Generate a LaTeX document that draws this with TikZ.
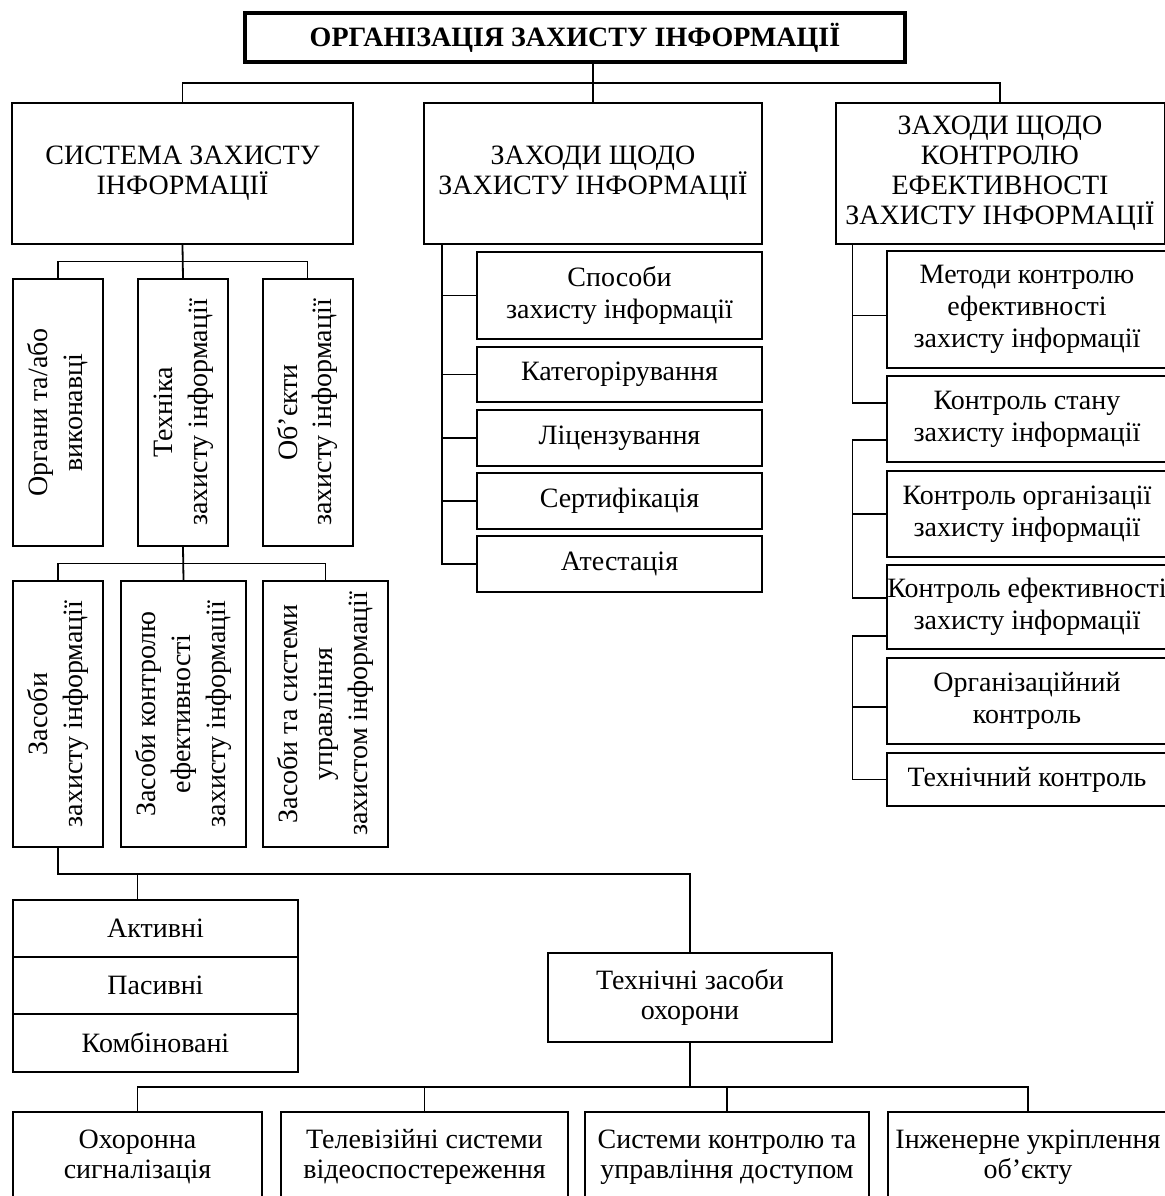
\documentclass[tikz,border=0pt]{standalone}
\usepackage{fontspec}
\setmainfont{Liberation Serif}
\usepackage{graphicx}
\usetikzlibrary{calc}
% two or three lines of text turned to read upwards
\newcommand\uprot[1]{\rotatebox{90}{\renewcommand\arraystretch{1.09}\begin{tabular}{@{}c@{}}#1\end{tabular}}}
\begin{document}
\begin{tikzpicture}[x=0.5pt,y=-0.5pt,
  box/.style={draw,line width=1pt,inner sep=1pt,align=center,
    font=\fontsize{14}{16}\selectfont},
  tightbox/.style={box,font=\fontsize{14}{15}\selectfont},
  headbox/.style={box,font=\fontsize{14}{15}\selectfont},
  titlebox/.style={box,line width=1.6pt,font=\fontsize{14}{16}\selectfont\bfseries},
  link/.style={line width=0.9pt},
]
\useasboundingbox (0,0) rectangle (1165,1196);

% root
\node[titlebox,minimum width=330pt,minimum height=24.5pt] (T) at (575,37.5) {ОРГАНІЗАЦІЯ ЗАХИСТУ ІНФОРМАЦІЇ};

% first level
\node[headbox,minimum width=170.5pt,minimum height=70.5pt] (A) at (182.5,173.5) {СИСТЕМА ЗАХИСТУ\\ІНФОРМАЦІЇ};
\node[headbox,minimum width=169pt,minimum height=70.5pt] (B) at (593,173.5) {ЗАХОДИ ЩОДО\\ЗАХИСТУ ІНФОРМАЦІЇ};
\node[headbox,minimum width=164.5pt,minimum height=70.5pt] (C) at (1000,173.5) {ЗАХОДИ ЩОДО\\КОНТРОЛЮ\\ЕФЕКТИВНОСТІ\\ЗАХИСТУ ІНФОРМАЦІЇ};

% parts of the protection system
\node[box,minimum width=45pt,minimum height=133.5pt] (a1) at (58,412.5) {\uprot{Органи та/або\\виконавці}};
\node[box,minimum width=45pt,minimum height=133.5pt] (a2) at (183,412.5) {\uprot{Техніка\\захисту інформації}};
\node[box,minimum width=45pt,minimum height=133.5pt] (a3) at (307.5,412.5) {\uprot{Об’єкти\\захисту інформації}};

% kinds of protection equipment
\node[box,minimum width=45pt,minimum height=133pt] (z1) at (58,714) {\uprot{Засоби\\захисту інформації}};
\node[box,minimum width=62.5pt,minimum height=133pt] (z2) at (183.5,714) {\uprot{Засоби контролю\\ефективності\\захисту інформації}};
\node[box,minimum width=62.5pt,minimum height=133pt] (z3) at (325.5,714) {\uprot{Засоби та системи\\управління\\захистом інформації}};

% active / passive / combined
\node[box,minimum width=142.5pt,minimum height=28.5pt] (p1) at (155.5,928.5) {Активні};
\node[box,minimum width=142.5pt,minimum height=28.5pt] (p2) at (155.5,985.5) {Пасивні};
\node[box,minimum width=142.5pt,minimum height=29pt] (p3) at (155.5,1043) {Комбіновані};

% security equipment
\node[tightbox,minimum width=142pt,minimum height=44.5pt] (ts) at (690,997.5) {Технічні засоби\\охорони};
\node[tightbox,minimum width=124.5pt,minimum height=45pt] (o1) at (137.5,1157) {Охоронна\\сигналізація};
\node[tightbox,minimum width=143.5pt,minimum height=45pt] (o2) at (424.5,1157) {Телевізійні системи\\відеоспостереження};
\node[tightbox,minimum width=142pt,minimum height=45pt] (o3) at (727,1157) {Системи контролю та\\управління доступом};
\node[tightbox,minimum width=140pt,minimum height=45pt] (o4) at (1028,1157) {Інженерне укріплення\\об’єкту};

% protection measures
\node[box,minimum width=142.5pt,minimum height=43.5pt] (b1) at (619.5,295.5) {Способи\\захисту інформації};
\node[box,minimum width=142.5pt,minimum height=27.5pt] (b2) at (619.5,374.5) {Категорірування};
\node[box,minimum width=142.5pt,minimum height=28pt] (b3) at (619.5,438) {Ліцензування};
\node[box,minimum width=142.5pt,minimum height=28pt] (b4) at (619.5,501) {Сертифікація};
\node[box,minimum width=142.5pt,minimum height=28pt] (b5) at (619.5,564) {Атестація};

% control measures
\node[box,minimum width=140pt,minimum height=58.5pt] (k1) at (1027,309.5) {Методи контролю\\ефективності\\захисту інформації};
\node[box,minimum width=140pt,minimum height=43pt] (k2) at (1027,419) {Контроль стану\\захисту інформації};
\node[box,minimum width=140pt,minimum height=43pt] (k3) at (1027,514) {Контроль організації\\захисту інформації};
\node[box,minimum width=140pt,minimum height=42pt,inner xsep=-2pt] (k4) at (1027,607) {Контроль ефективності\\захисту інформації};
\node[box,minimum width=140pt,minimum height=43pt] (k5) at (1027,701) {Організаційний\\контроль};
\node[box,minimum width=140pt,minimum height=26.5pt] (k6) at (1027,779.5) {Технічний контроль};

% ---- connectors ----
\draw[link] (A.north) |- ($(T.south)!0.5!(B.north)$) -| (C.north);
\draw[link] (B.north |- T.south) -- (B.north);

\draw[link] (A.south) -- (a2.north);
\draw[link] (a1.north) |- ($(A.south)!0.5!(a2.north)$) -| (a3.north);

\draw[link] (a2.south) -- (z2.north);
\draw[link] (z1.north) |- ($(a2.south)!0.5!(z2.north)$) -| (z3.north);

\coordinate (zb) at ([yshift=-13pt]z1.south);
\draw[link] (z1.south) -- (zb) -| (ts.north);
\coordinate (pd) at ([xshift=-9pt]p1.north);
\draw[link] (pd) -- (pd |- zb);

\coordinate (tb) at ([yshift=-22pt]ts.south);
\draw[link] (ts.south) -- (tb);
\draw[link] (o1.north) |- (tb) -| (o4.north);
\draw[link] (o2.north) -- (o2.north |- tb);
\draw[link] (o3.north) -- (o3.north |- tb);

\coordinate (bt) at ([xshift=9.5pt]B.south west);
\draw[link] (bt) |- (b5.west);
\foreach \n in {b1,b2,b3,b4} \draw[link] (\n.west) -- (\n.west -| bt);

\coordinate (ct) at ([xshift=9pt]C.south west);
\draw[link] (ct) |- ([yshift=8pt]k2.west);
\coordinate (k1b) at ([yshift=-3pt]k1.west);
\draw[link] (k1b) -- (k1b -| ct);
\coordinate (s2a) at ([yshift=-10.5pt]k2.west);
\coordinate (s2b) at ([yshift=4.5pt]k4.west);
\draw[link] (s2a) -- (s2a -| ct) |- (s2b);
\draw[link] (k3.west) -- (k3.west -| ct);
\coordinate (s3a) at ([yshift=-14.5pt]k4.west);
\draw[link] (s3a) -- (s3a -| ct) |- (k6.west);
\coordinate (k5b) at ([yshift=-3pt]k5.west);
\draw[link] (k5b) -- (k5b -| ct);
\end{tikzpicture}
\end{document}
